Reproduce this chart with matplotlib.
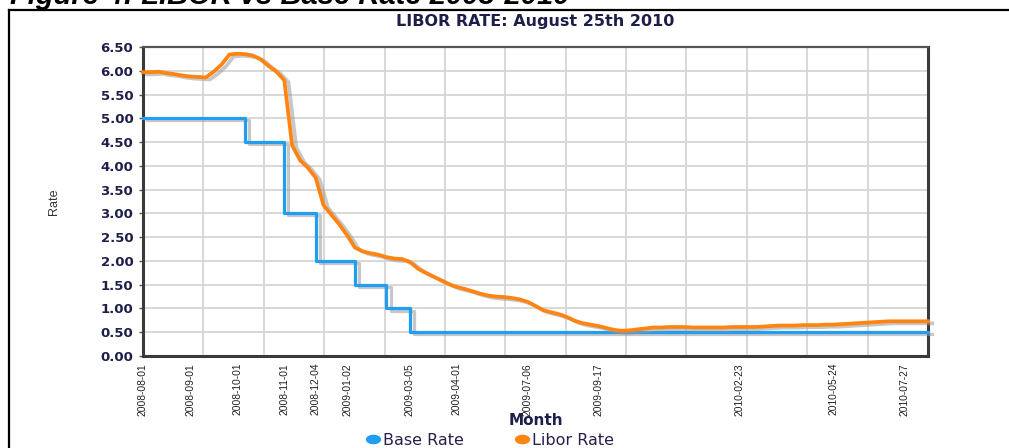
import matplotlib
matplotlib.use("Agg")
import matplotlib.pyplot as plt
import matplotlib.patheffects as pe
from matplotlib.lines import Line2D
from matplotlib.path import Path
import numpy as np

# ---------------- data ----------------
dates = [
    "2008-08-01", "2008-08-06", "2008-08-11", "2008-08-16", "2008-08-21", "2008-08-26",
    "2008-09-01", "2008-09-06", "2008-09-11", "2008-09-16", "2008-09-21", "2008-09-26",
    "2008-10-01", "2008-10-08", "2008-10-13", "2008-10-17", "2008-10-22", "2008-10-27",
    "2008-11-01", "2008-11-09", "2008-11-17", "2008-11-25", "2008-12-04", "2008-12-11",
    "2008-12-18", "2008-12-26", "2009-01-02", "2009-01-08", "2009-01-15", "2009-01-22",
    "2009-01-29", "2009-02-05", "2009-02-14", "2009-02-24", "2009-03-05", "2009-03-09",
    "2009-03-14", "2009-03-18", "2009-03-23", "2009-03-27", "2009-04-01", "2009-04-12",
    "2009-04-22", "2009-05-03", "2009-05-14", "2009-05-24", "2009-06-04", "2009-06-15",
    "2009-06-25", "2009-07-06", "2009-07-14", "2009-07-22", "2009-07-30", "2009-08-07",
    "2009-08-15", "2009-08-23", "2009-09-01", "2009-09-09", "2009-09-17", "2009-09-26",
    "2009-10-05", "2009-10-13", "2009-10-22", "2009-10-31", "2009-11-09", "2009-11-17",
    "2009-11-26", "2009-12-05", "2009-12-14", "2009-12-22", "2009-12-31", "2010-01-09",
    "2010-01-18", "2010-01-27", "2010-02-05", "2010-02-14", "2010-02-23", "2010-03-03",
    "2010-03-10", "2010-03-18", "2010-03-25", "2010-04-02", "2010-04-09", "2010-04-17",
    "2010-04-24", "2010-05-02", "2010-05-09", "2010-05-17", "2010-05-24", "2010-05-31",
    "2010-06-07", "2010-06-14", "2010-06-21", "2010-06-29", "2010-07-06", "2010-07-13",
    "2010-07-20", "2010-07-27", "2010-08-05", "2010-08-15", "2010-08-25",
]

libor_rate = [
    5.97, 5.97, 5.98, 5.95, 5.93, 5.90, 5.88, 5.87, 5.86, 5.98,
    6.13, 6.34, 6.36, 6.35, 6.32, 6.24, 6.10, 5.98, 5.80, 4.43,
    4.12, 3.96, 3.75, 3.17, 2.97, 2.77, 2.54, 2.28, 2.20, 2.16,
    2.13, 2.08, 2.05, 2.04, 1.98, 1.84, 1.75, 1.67, 1.59, 1.51,
    1.45, 1.41, 1.36, 1.31, 1.27, 1.25, 1.24, 1.22, 1.19, 1.14,
    1.05, 0.96, 0.92, 0.88, 0.82, 0.74, 0.69, 0.66, 0.63, 0.59,
    0.55, 0.53, 0.54, 0.56, 0.58, 0.60, 0.60, 0.61, 0.61, 0.61,
    0.60, 0.60, 0.60, 0.60, 0.60, 0.61, 0.61, 0.61, 0.61, 0.62,
    0.63, 0.64, 0.64, 0.64, 0.65, 0.65, 0.65, 0.66, 0.66, 0.67,
    0.68, 0.69, 0.70, 0.71, 0.72, 0.73, 0.73, 0.73, 0.73, 0.73,
    0.73,
]

base_rate = [
    5.0, 5.0, 5.0, 5.0, 5.0, 5.0, 5.0, 5.0, 5.0, 5.0,
    5.0, 5.0, 5.0, 4.5, 4.5, 4.5, 4.5, 4.5, 3.0, 3.0,
    3.0, 3.0, 2.0, 2.0, 2.0, 2.0, 2.0, 1.5, 1.5, 1.5,
    1.5, 1.0, 1.0, 1.0, 0.5, 0.5, 0.5, 0.5, 0.5, 0.5,
    0.5, 0.5, 0.5, 0.5, 0.5, 0.5, 0.5, 0.5, 0.5, 0.5,
    0.5, 0.5, 0.5, 0.5, 0.5, 0.5, 0.5, 0.5, 0.5, 0.5,
    0.5, 0.5, 0.5, 0.5, 0.5, 0.5, 0.5, 0.5, 0.5, 0.5,
    0.5, 0.5, 0.5, 0.5, 0.5, 0.5, 0.5, 0.5, 0.5, 0.5,
    0.5, 0.5, 0.5, 0.5, 0.5, 0.5, 0.5, 0.5, 0.5, 0.5,
    0.5, 0.5, 0.5, 0.5, 0.5, 0.5, 0.5, 0.5, 0.5, 0.5,
    0.5,
]

tick_dates = [
    "2008-08-01", "2008-09-01", "2008-10-01", "2008-11-01", "2008-12-04",
    "2009-01-02", "2009-03-05", "2009-04-01", "2009-07-06", "2009-09-17",
    "2010-02-23", "2010-05-24", "2010-07-27",
]
y_ticks = [0.0, 0.5, 1.0, 1.5, 2.0, 2.5, 3.0, 3.5, 4.0, 4.5, 5.0, 5.5, 6.0, 6.5]

figure_caption = "Figure 4: LIBOR vs Base Rate 2008-2010"
chart_title = "LIBOR RATE: August 25th 2010"
series_names = ["Base Rate", "Libor Rate"]

# ---------------- style ----------------
W, H = 1009, 448
BLUE = "#1f9ef2"
ORANGE = "#ff8412"
NAVY = "#1e1e4a"
SANS = ["Liberation Sans", "DejaVu Sans"]

fig = plt.figure(figsize=(W / 100, H / 100), dpi=100)
fig.patch.set_facecolor("white")

ax = fig.add_axes([143 / W, 92 / H, 785 / W, 309 / H])
x = np.arange(len(dates))

shadow = [pe.SimpleLineShadow(offset=(3, -1.5), shadow_color="#9a9a9a", alpha=0.55),
          pe.Normal()]

ax.plot(x, base_rate, drawstyle="steps-post", color=BLUE, lw=2.3,
        path_effects=shadow, clip_on=False, zorder=3)
ax.plot(x, libor_rate, color=ORANGE, lw=2.7, path_effects=shadow,
        clip_on=False, zorder=4, solid_joinstyle="round")

ax.set_xlim(0, len(dates) - 1)
ax.set_ylim(y_ticks[0], y_ticks[-1])

# ticks
tick_pos = [dates.index(d) for d in tick_dates]
ax.set_xticks(tick_pos)
ax.set_xticklabels(tick_dates, rotation=90, family=SANS, fontsize=7.4,
                   color="#222222")
ax.set_xticks(np.linspace(0, len(dates) - 1, 14)[1:-1], minor=True)
ax.tick_params(axis="x", which="both", length=0, pad=5)

ax.set_yticks(y_ticks)
ax.set_yticklabels([f"{v:.2f}" for v in y_ticks], fontweight="bold",
                   fontsize=9.5, color=NAVY)
ax.tick_params(axis="y", length=3, width=1, color="#555555", pad=4)

ax.grid(axis="y", which="major", color="#d6d6d6", lw=1.3, zorder=0)
ax.grid(axis="x", which="minor", color="#d6d6d6", lw=1.3, zorder=0)
ax.grid(axis="x", which="major", visible=False)
ax.set_axisbelow(True)

for side in ["left", "bottom", "top", "right"]:
    ax.spines[side].set_color("#3a3a3a")
    ax.spines[side].set_linewidth(2.2)
ax.spines["top"].set_color("#555555")
ax.spines["top"].set_linewidth(1.6)

# labels
ax.set_ylabel("Rate", family=SANS, fontsize=9, color="#333333")
ax.yaxis.set_label_coords(-0.106, 0.5)
ax.text(0.5, -0.21, "Month", transform=ax.transAxes, ha="center", va="center",
        fontweight="bold", fontsize=11, color=NAVY)
ax.text(0.5, 1.081, chart_title, transform=ax.transAxes, ha="center",
        va="center", fontweight="bold", fontsize=11.5, color=NAVY)

# legend with wide elliptical markers
circ = Path.unit_circle()
ellipse = Path(circ.vertices * np.array([1.7, 1.0]), circ.codes)
handles = [Line2D([], [], ls="none", marker=ellipse, markersize=10, color=BLUE),
           Line2D([], [], ls="none", marker=ellipse, markersize=10, color=ORANGE)]
fig.legend(handles, series_names, loc="center", bbox_to_anchor=(490 / W, 1 - 440 / H),
           ncol=2, frameon=False, handletextpad=0.15, columnspacing=3.2,
           handlelength=0.9, prop={"size": 11.5}, labelcolor="#2a1e4a",
           borderpad=0.0)

# caption (cut off at top) and outer frame
fig.text(10 / W, 1 - 4 / H, figure_caption, fontsize=21, fontweight="bold",
         fontstyle="italic", family=SANS, va="baseline", ha="left", color="black")
fig.add_artist(Line2D([9 / W, 9 / W], [0, 1 - 10 / H], color="black", lw=1.6,
                      transform=fig.transFigure))
fig.add_artist(Line2D([9 / W, 1], [1 - 10 / H, 1 - 10 / H], color="black", lw=1.6,
                      transform=fig.transFigure))

fig.savefig("out.png", dpi=100)
